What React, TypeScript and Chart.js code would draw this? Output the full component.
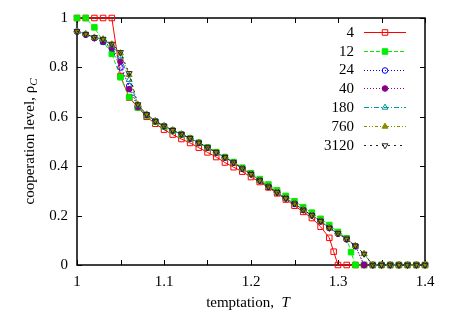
import React, { useEffect, useRef } from "react";
import { Chart, registerables } from "chart.js";

Chart.register(...registerables);

const FONT = '"Liberation Serif", "Times New Roman", serif';

// ---- data ----
const T_BASE = [1.00, 1.01, 1.02, 1.03, 1.04, 1.05, 1.06, 1.07, 1.08, 1.09, 1.10, 1.11, 1.12, 1.13, 1.14, 1.15, 1.16, 1.17, 1.18, 1.19, 1.20, 1.21, 1.22, 1.23, 1.24, 1.25, 1.26, 1.27, 1.28, 1.29, 1.30, 1.31, 1.32, 1.33, 1.34, 1.35, 1.36, 1.37, 1.38, 1.39, 1.40];
const T_4 = [1.00, 1.01, 1.02, 1.03, 1.04, 1.05, 1.06, 1.07, 1.08, 1.09, 1.10, 1.11, 1.12, 1.13, 1.14, 1.15, 1.16, 1.17, 1.18, 1.19, 1.20, 1.21, 1.22, 1.23, 1.24, 1.25, 1.26, 1.27, 1.28, 1.29, 1.295, 1.30, 1.31, 1.32, 1.33, 1.34, 1.35, 1.36, 1.37, 1.38, 1.39, 1.40];
const T_12 = [1.00, 1.01, 1.02, 1.03, 1.04, 1.05, 1.06, 1.07, 1.08, 1.09, 1.10, 1.11, 1.12, 1.13, 1.14, 1.15, 1.16, 1.17, 1.18, 1.19, 1.20, 1.21, 1.22, 1.23, 1.24, 1.25, 1.26, 1.27, 1.28, 1.29, 1.30, 1.31, 1.315, 1.32, 1.33, 1.34, 1.35, 1.36, 1.37, 1.38, 1.39, 1.40];

const RHO_4 = [1, 1, 1, 1, 1, 0.765, 0.678, 0.638, 0.600, 0.572, 0.548, 0.528, 0.510, 0.494, 0.475, 0.456, 0.437, 0.415, 0.396, 0.378, 0.356, 0.336, 0.314, 0.290, 0.265, 0.240, 0.215, 0.190, 0.155, 0.110, 0.054, 0, 0, 0, 0, 0, 0, 0, 0, 0, 0, 0];
const RHO_12 = [1, 1, 0.962, 0.905, 0.855, 0.760, 0.680, 0.637, 0.605, 0.580, 0.560, 0.543, 0.528, 0.512, 0.495, 0.476, 0.457, 0.437, 0.417, 0.394, 0.372, 0.348, 0.326, 0.302, 0.280, 0.258, 0.234, 0.212, 0.187, 0.162, 0.134, 0.108, 0.052, 0, 0, 0, 0, 0, 0, 0, 0, 0];
const RHO_24 = [0.945, 0.933, 0.919, 0.903, 0.877, 0.800, 0.725, 0.642, 0.608, 0.582, 0.562, 0.545, 0.529, 0.512, 0.494, 0.475, 0.455, 0.435, 0.414, 0.390, 0.368, 0.342, 0.317, 0.294, 0.270, 0.248, 0.223, 0.201, 0.177, 0.150, 0.127, 0.104, 0.077, 0, 0, 0, 0, 0, 0, 0, 0];
const RHO_40 = [0.945, 0.932, 0.918, 0.905, 0.880, 0.823, 0.712, 0.640, 0.608, 0.582, 0.562, 0.545, 0.529, 0.512, 0.494, 0.475, 0.455, 0.435, 0.414, 0.390, 0.368, 0.342, 0.317, 0.294, 0.270, 0.248, 0.223, 0.201, 0.177, 0.150, 0.127, 0.104, 0.076, 0, 0, 0, 0, 0, 0, 0, 0];
const RHO_180 = [0.946, 0.935, 0.921, 0.912, 0.890, 0.845, 0.750, 0.646, 0.610, 0.583, 0.563, 0.546, 0.530, 0.513, 0.495, 0.476, 0.456, 0.436, 0.415, 0.390, 0.368, 0.342, 0.317, 0.294, 0.270, 0.248, 0.223, 0.201, 0.178, 0.150, 0.128, 0.106, 0.078, 0.045, 0, 0, 0, 0, 0, 0, 0];
const RHO_760 = [0.946, 0.935, 0.922, 0.915, 0.894, 0.858, 0.770, 0.650, 0.610, 0.583, 0.563, 0.546, 0.530, 0.513, 0.495, 0.476, 0.456, 0.436, 0.415, 0.390, 0.368, 0.342, 0.317, 0.294, 0.270, 0.248, 0.223, 0.201, 0.178, 0.150, 0.128, 0.106, 0.078, 0.045, 0, 0, 0, 0, 0, 0, 0];
const RHO_3120 = [0.946, 0.935, 0.922, 0.915, 0.895, 0.861, 0.776, 0.650, 0.610, 0.583, 0.563, 0.546, 0.530, 0.513, 0.495, 0.476, 0.456, 0.436, 0.415, 0.390, 0.368, 0.342, 0.317, 0.294, 0.270, 0.248, 0.223, 0.201, 0.178, 0.150, 0.128, 0.106, 0.078, 0.045, 0, 0, 0, 0, 0, 0, 0];

const SERIES_NAMES = ["4", "12", "24", "40", "180", "760", "3120"];

const X_TICKS = [1.0, 1.05, 1.1, 1.15, 1.2, 1.25, 1.3, 1.35, 1.4];
const X_LABELS = ["1", "", "1.1", "", "1.2", "", "1.3", "", "1.4"];
const Y_TICKS = [0, 0.2, 0.4, 0.6, 0.8, 1];
const Y_LABELS = ["0", "0.2", "0.4", "0.6", "0.8", "1"];

const X_TITLE = "temptation,  ";
const X_TITLE_VAR = "T";
const Y_TITLE = "cooperation level, ρ";
const Y_TITLE_SUB = "C";

// ---- styles ----
type Style = { color: string; dash: number[]; shape: string; filled: boolean; r: number };
const STYLES: Style[] = [
  { color: "#ff0000", dash: [], shape: "square", filled: false, r: 3.9 },
  { color: "#00ee00", dash: [4, 2], shape: "square", filled: true, r: 3.9 },
  { color: "#0000ff", dash: [1, 2], shape: "circle", filled: false, r: 2.8 },
  { color: "#880088", dash: [1, 2], shape: "circle", filled: true, r: 2.8 },
  { color: "#009a9a", dash: [5, 2, 1, 2], shape: "triangle", filled: false, r: 3.4 },
  { color: "#8b8b00", dash: [3, 2, 1, 2, 1, 2], shape: "triangle", filled: true, r: 3.4 },
  { color: "#222222", dash: [2, 4], shape: "invtriangle", filled: false, r: 3.4 },
];

function drawMarker(ctx: CanvasRenderingContext2D, st: Style, x: number, y: number) {
  ctx.save();
  ctx.setLineDash([]);
  ctx.lineWidth = 1;
  ctx.strokeStyle = st.color;
  ctx.fillStyle = st.color;
  ctx.beginPath();
  const r = st.r;
  if (st.shape === "square") {
    const s = Math.SQRT1_2 * r;
    ctx.rect(x - s, y - s, 2 * s, 2 * s);
  } else if (st.shape === "circle") {
    ctx.arc(x, y, r, 0, Math.PI * 2);
  } else {
    const inv = st.shape === "invtriangle";
    let a = inv ? Math.PI : 0;
    ctx.moveTo(x + Math.sin(a) * r, y - Math.cos(a) * r);
    a += (2 * Math.PI) / 3;
    ctx.lineTo(x + Math.sin(a) * r, y - Math.cos(a) * r);
    a += (2 * Math.PI) / 3;
    ctx.lineTo(x + Math.sin(a) * r, y - Math.cos(a) * r);
    ctx.closePath();
  }
  if (st.filled) ctx.fill();
  ctx.stroke();
  ctx.restore();
}

const framePlugin = {
  id: "frame",
  beforeDatasetsDraw(chart: any) {
    const { ctx, chartArea: a, scales } = chart;
    ctx.save();
    ctx.strokeStyle = "#000";
    ctx.lineWidth = 1.5;
    ctx.strokeRect(a.left, a.top, a.right - a.left, a.bottom - a.top);
    ctx.lineWidth = 1;
    const tl = 5;
    ctx.beginPath();
    for (const v of X_TICKS) {
      const px = Math.round(scales.x.getPixelForValue(v)) + 0.5;
      ctx.moveTo(px, a.bottom);
      ctx.lineTo(px, a.bottom - tl);
      ctx.moveTo(px, a.top);
      ctx.lineTo(px, a.top + tl);
    }
    for (const v of Y_TICKS) {
      const py = Math.round(scales.y.getPixelForValue(v)) + 0.5;
      ctx.moveTo(a.left, py);
      ctx.lineTo(a.left + tl, py);
      ctx.moveTo(a.right, py);
      ctx.lineTo(a.right - tl, py);
    }
    ctx.stroke();
    ctx.restore();
  },
  afterDraw(chart: any) {
    const { ctx, chartArea: a } = chart;
    ctx.save();
    ctx.fillStyle = "#000";
    // x title
    ctx.font = `15px ${FONT}`;
    const w1 = ctx.measureText(X_TITLE).width;
    ctx.font = `italic 15px ${FONT}`;
    const w2 = ctx.measureText(X_TITLE_VAR).width;
    let x0 = (a.left + a.right) / 2 - 3 - (w1 + w2) / 2;
    ctx.textBaseline = "middle";
    ctx.textAlign = "left";
    ctx.font = `15px ${FONT}`;
    ctx.fillText(X_TITLE, x0, 303);
    ctx.font = `italic 15px ${FONT}`;
    ctx.fillText(X_TITLE_VAR, x0 + w1, 303);
    // y title
    ctx.save();
    ctx.translate(30, (a.top + a.bottom) / 2);
    ctx.rotate(-Math.PI / 2);
    ctx.font = `15px ${FONT}`;
    const y1 = ctx.measureText(Y_TITLE).width;
    ctx.font = `italic 11px ${FONT}`;
    const y2 = ctx.measureText(Y_TITLE_SUB).width;
    const s0 = -(y1 + y2) / 2;
    ctx.font = `15px ${FONT}`;
    ctx.fillText(Y_TITLE, s0, 0);
    ctx.font = `italic 11px ${FONT}`;
    ctx.fillText(Y_TITLE_SUB, s0 + y1, 4);
    ctx.restore();
    // legend
    const rowH = 18.9;
    for (let i = 0; i < SERIES_NAMES.length; i++) {
      const y = 31.7 + i * rowH;
      const st = STYLES[i];
      ctx.font = `15px ${FONT}`;
      ctx.textAlign = "right";
      ctx.textBaseline = "middle";
      ctx.fillStyle = "#000";
      ctx.fillText(SERIES_NAMES[i], 354, y + 1);
      ctx.save();
      ctx.strokeStyle = st.color;
      ctx.lineWidth = 1;
      ctx.setLineDash(st.dash);
      ctx.beginPath();
      ctx.moveTo(364, Math.round(y) + 0.5);
      ctx.lineTo(406, Math.round(y) + 0.5);
      ctx.stroke();
      ctx.restore();
      drawMarker(ctx, st, 385, Math.round(y) + 0.5);
    }
    ctx.restore();
  },
};

function pointStyleFor(st: Style) {
  if (st.shape === "square") return "rect";
  if (st.shape === "circle") return "circle";
  return "triangle";
}

export default function App() {
  const ref = useRef<HTMLCanvasElement | null>(null);
  useEffect(() => {
    if (!ref.current) return;
    const xs = [T_4, T_12, T_BASE, T_BASE, T_BASE, T_BASE, T_BASE];
    const ys = [RHO_4, RHO_12, RHO_24, RHO_40, RHO_180, RHO_760, RHO_3120];
    const datasets = SERIES_NAMES.map((name, i) => {
      const st = STYLES[i];
      return {
        label: name,
        data: xs[i].map((x, k) => ({ x, y: ys[i][k] })),
        borderColor: st.color,
        backgroundColor: st.color,
        borderWidth: 1,
        borderDash: st.dash,
        pointStyle: pointStyleFor(st),
        pointRotation: st.shape === "invtriangle" ? 180 : 0,
        pointRadius: st.r,
        pointBorderWidth: 1,
        pointBorderColor: st.color,
        pointBackgroundColor: st.filled ? st.color : "rgba(0,0,0,0)",
        tension: 0,
        clip: false as any,
        order: SERIES_NAMES.length - 1 - i,
      };
    });
    const chart = new Chart(ref.current, {
      type: "line",
      data: { datasets },
      options: {
        responsive: false,
        animation: false,
        devicePixelRatio: 1,
        layout: { padding: { left: 0, right: 38, top: 16, bottom: 0 } },
        plugins: { legend: { display: false }, tooltip: { enabled: false }, title: { display: false } },
        scales: {
          x: {
            type: "linear",
            min: 1,
            max: 1.4,
            afterBuildTicks: (s: any) => {
              s.ticks = X_TICKS.map((v) => ({ value: v }));
            },
            afterFit: (s: any) => {
              s.height = 50;
            },
            ticks: {
              autoSkip: false,
              maxRotation: 0,
              padding: 8,
              color: "#000",
              font: { family: FONT, size: 15 },
              callback: (v: any) => {
                const idx = X_TICKS.findIndex((t) => Math.abs(t - Number(v)) < 1e-6);
                return idx >= 0 ? X_LABELS[idx] : "";
              },
            },
            grid: { display: false, drawTicks: false },
            border: { display: false },
          },
          y: {
            type: "linear",
            min: 0,
            max: 1,
            afterBuildTicks: (s: any) => {
              s.ticks = Y_TICKS.map((v) => ({ value: v }));
            },
            afterFit: (s: any) => {
              s.width = 77;
            },
            ticks: {
              padding: 9,
              color: "#000",
              font: { family: FONT, size: 15 },
              callback: (v: any) => {
                const idx = Y_TICKS.findIndex((t) => Math.abs(t - Number(v)) < 1e-6);
                return idx >= 0 ? Y_LABELS[idx] : "";
              },
            },
            grid: { display: false, drawTicks: false },
            border: { display: false },
          },
        },
      },
      plugins: [framePlugin],
    } as any);
    return () => chart.destroy();
  }, []);
  return (
    <div style={{ position: "fixed", left: 0, top: 0, width: 463, height: 315, background: "#fff" }}>
      <canvas ref={ref} width={463} height={315} style={{ display: "block", width: 463, height: 315 }} />
    </div>
  );
}
